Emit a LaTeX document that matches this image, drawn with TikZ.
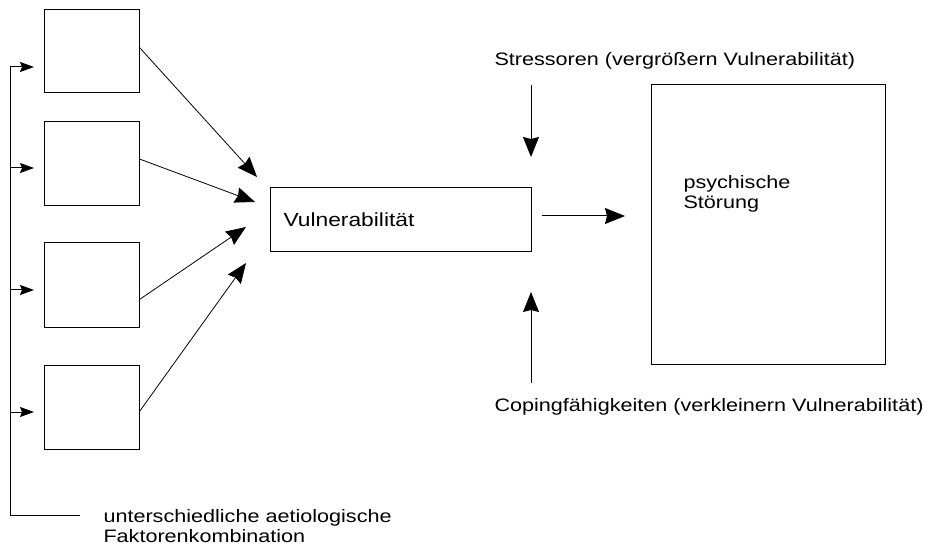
\documentclass[tikz,border=0pt]{standalone}
\usepackage{fontspec}
\setmainfont{Liberation Sans}[FakeStretch=1.2]
\usetikzlibrary{arrows.meta,calc}
\begin{document}
\begin{tikzpicture}[x=1pt,y=-1pt,
  line width=1pt,
  sbox/.style={draw,minimum width=95pt,minimum height=83pt,inner sep=0pt},
  big/.style={-{Stealth[length=20pt,width=16pt,inset=2pt]}},
  tick/.style={-{Stealth[length=14pt,width=10pt,inset=2pt]}},
  lbl/.style={font=\fontsize{18}{20}\selectfont,inner sep=0pt,align=left}]
\useasboundingbox (0,0) rectangle (930,548);
% small boxes
\node[sbox] (b1) at (91.5,51.5) {};
\node[sbox,minimum height=84pt] (b2) at (91.5,164) {};
\node[sbox,minimum height=85pt] (b3) at (91.5,285.5) {};
\node[sbox] (b4) at (91.5,407.5) {};
% Vulnerabilitaet
\node[draw,minimum width=261pt,minimum height=64pt,anchor=west,
      text width=235pt,inner xsep=13pt,align=left,
      font=\fontsize{19}{22}\selectfont] (v) at (270,220) {Vulnerabilität};
% big box
\node[draw,minimum width=234pt,minimum height=280pt,inner sep=0pt] (p) at (768,225) {};
\node[lbl,anchor=north west] (pt) at (683,175) {psychische\\Störung};
% texts
\node[lbl,anchor=west] (st) at (494,61) {Stressoren (vergrößern Vulnerabilität)};
\node[lbl,anchor=west] (cp) at (494,407) {Copingfähigkeiten (verkleinern Vulnerabilität)};
\node[lbl,anchor=north west] (ft) at (103,509) {unterschiedliche aetiologische\\Faktorenkombination};
% coordinates
\coordinate (t1) at (257,177);
\coordinate (t2) at (255,202);
\coordinate (t3) at (246,227);
\coordinate (t4) at (246,263);
\coordinate (o1) at (542,216);
\coordinate (o2) at (625,216);
\coordinate (s1) at (531,85);
\coordinate (s2) at (531,157);
\coordinate (c1) at (531,383);
\coordinate (c2) at (531,292);
\coordinate (Ltop) at (10,67);
\coordinate (Lbot) at (10,515);
\coordinate (Lend) at (80,515);
\coordinate (k1) at (10,67);
\coordinate (k2) at (10,168);
\coordinate (k3) at (10,290);
\coordinate (k4) at (10,412);
\coordinate (e1) at (34,67);
\coordinate (e2) at (34,168);
\coordinate (e3) at (34,290);
\coordinate (e4) at (34,412);
% connectors
\draw[big,line width=0.8pt] ($(b1.east)+(0,-4)$) -- (t1);
\draw[big,line width=0.8pt] ($(b2.east)+(0,-5)$) -- (t2);
\draw[big,line width=0.8pt] ($(b3.east)+(0,14)$) -- (t3);
\draw[big,line width=0.8pt] ($(b4.east)+(0,4)$) -- (t4);
\draw[big] (o1) -- (o2);
\draw[big] (s1) -- (s2);
\draw[big] (c1) -- (c2);
\draw (Ltop) -- (Lbot) -- (Lend);
\foreach \i in {1,2,3,4} \draw[tick] (k\i) -- (e\i);
\end{tikzpicture}
\end{document}
